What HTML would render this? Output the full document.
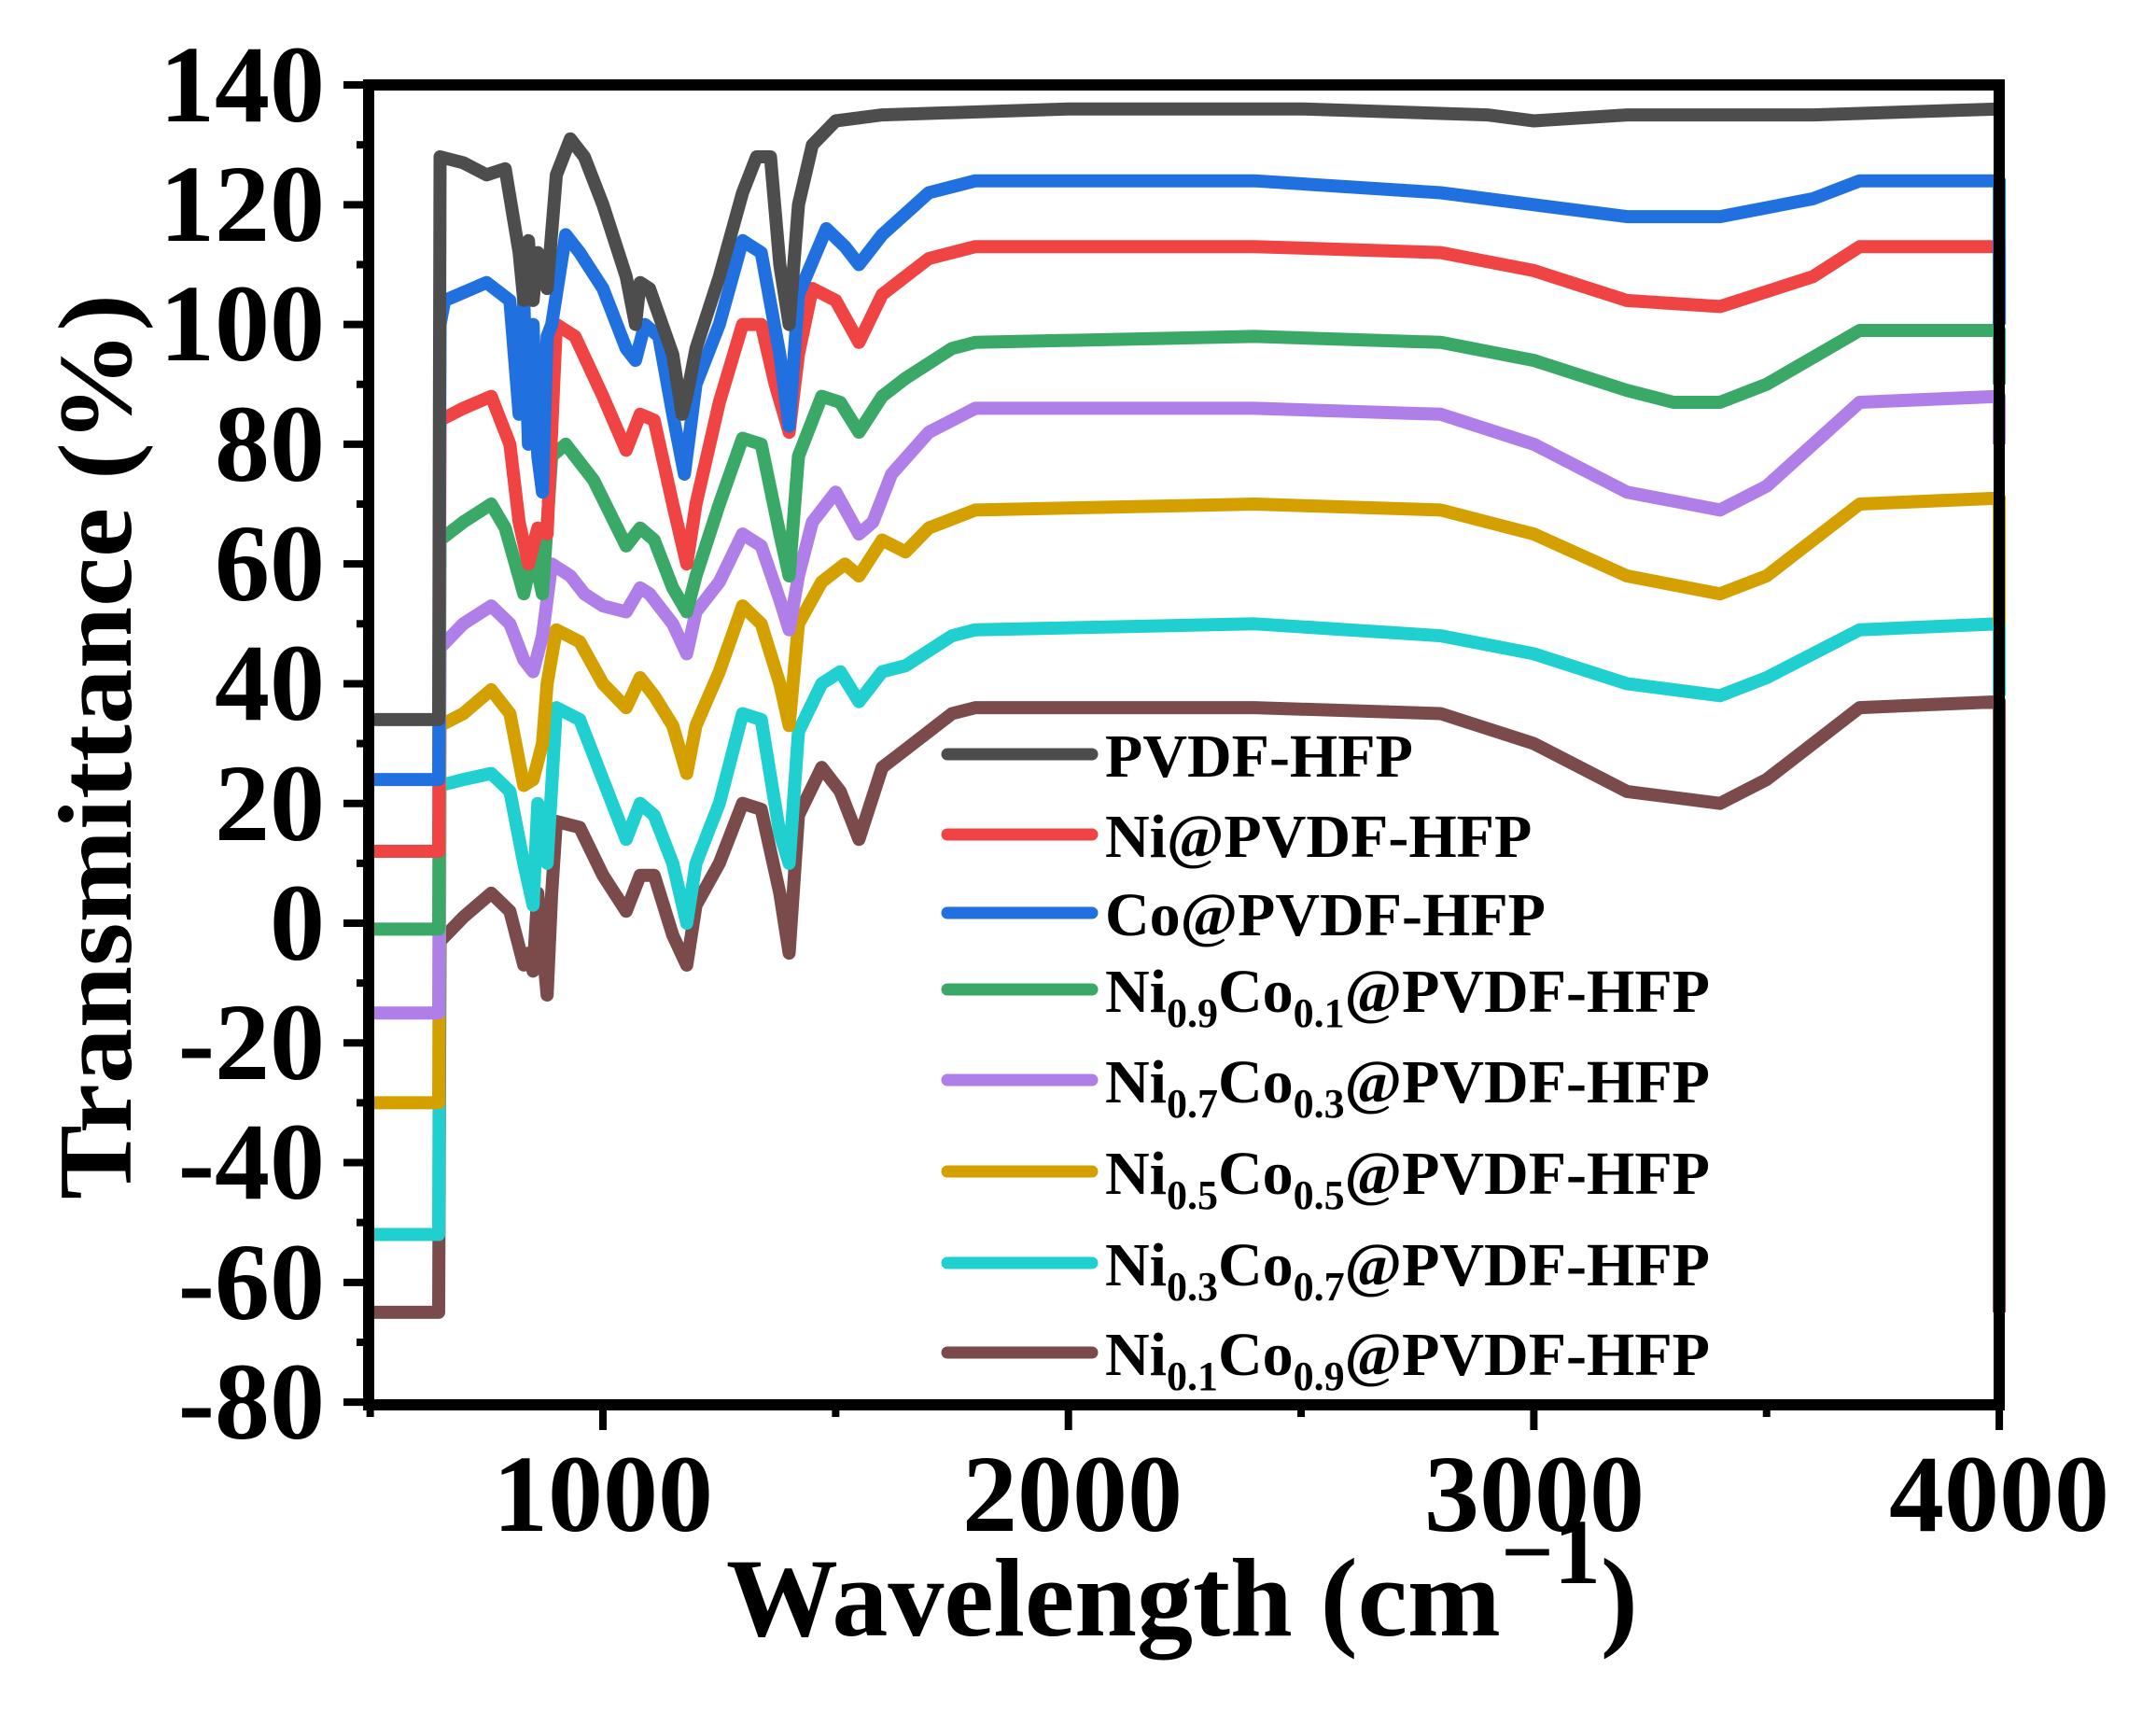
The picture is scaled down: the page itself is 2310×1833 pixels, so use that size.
<!DOCTYPE html>
<html><head><meta charset="utf-8"><style>
html,body{margin:0;padding:0;background:#fff;}
svg{display:block;}
text{font-family:"Liberation Serif","Times New Roman",serif;font-weight:bold;fill:#000;}
</style></head><body>
<svg id="s" width="2310" height="1833" viewBox="0 0 2310 1833" xmlns="http://www.w3.org/2000/svg">
<g id="series" fill="none" stroke-width="14" stroke-linejoin="round"></g>
<rect x="395" y="91" width="1747" height="1414" fill="none" stroke="#000" stroke-width="12"/>
<g id="ticks" stroke="#000" stroke-width="8"></g>
<g font-size="118" text-anchor="end">
<text x="348" y="130">140</text><text x="348" y="258">120</text><text x="348" y="386">100</text>
<text x="348" y="515">80</text><text x="348" y="643">60</text><text x="348" y="771">40</text>
<text x="348" y="900">20</text><text x="348" y="1028">0</text><text x="348" y="1156">-20</text>
<text x="348" y="1284">-40</text><text x="348" y="1413">-60</text><text x="348" y="1541">-80</text>
</g>
<g font-size="118" text-anchor="middle">
<text x="646" y="1640">1000</text><text x="1149" y="1640">2000</text>
<text x="1644" y="1640">3000</text><text x="2142" y="1640">4000</text>
</g>
<text x="778" y="1752" font-size="120">Wavelength (cm<tspan font-size="100" dy="-56">−1</tspan><tspan dy="56">)</tspan></text>
<text transform="translate(140,800) rotate(-90)" font-size="112" text-anchor="middle" textLength="970" lengthAdjust="spacingAndGlyphs">Transmittance (%)</text>
<g stroke-width="13" stroke-linecap="round">
<line x1="1015" y1="808" x2="1170" y2="808" stroke="#4d4d4d"/>
<line x1="1015" y1="894" x2="1170" y2="894" stroke="#f04444"/>
<line x1="1015" y1="978" x2="1170" y2="978" stroke="#2070e0"/>
<line x1="1015" y1="1060" x2="1170" y2="1060" stroke="#3aa866"/>
<line x1="1015" y1="1157" x2="1170" y2="1157" stroke="#b07ee8"/>
<line x1="1015" y1="1255" x2="1170" y2="1255" stroke="#d4a000"/>
<line x1="1015" y1="1353" x2="1170" y2="1353" stroke="#20cfcf"/>
<line x1="1015" y1="1449" x2="1170" y2="1449" stroke="#7b4a4a"/>
</g>
<g font-size="66">
<text x="1184" y="832">PVDF-HFP</text>
<text x="1184" y="918">Ni@PVDF-HFP</text>
<text x="1184" y="1002">Co@PVDF-HFP</text>
<text x="1184" y="1084">Ni<tspan font-size="44" dy="16">0.9</tspan><tspan dy="-16">Co</tspan><tspan font-size="44" dy="16">0.1</tspan><tspan dy="-16">@PVDF-HFP</tspan></text>
<text x="1184" y="1181">Ni<tspan font-size="44" dy="16">0.7</tspan><tspan dy="-16">Co</tspan><tspan font-size="44" dy="16">0.3</tspan><tspan dy="-16">@PVDF-HFP</tspan></text>
<text x="1184" y="1279">Ni<tspan font-size="44" dy="16">0.5</tspan><tspan dy="-16">Co</tspan><tspan font-size="44" dy="16">0.5</tspan><tspan dy="-16">@PVDF-HFP</tspan></text>
<text x="1184" y="1377">Ni<tspan font-size="44" dy="16">0.3</tspan><tspan dy="-16">Co</tspan><tspan font-size="44" dy="16">0.7</tspan><tspan dy="-16">@PVDF-HFP</tspan></text>
<text x="1184" y="1473">Ni<tspan font-size="44" dy="16">0.1</tspan><tspan dy="-16">Co</tspan><tspan font-size="44" dy="16">0.9</tspan><tspan dy="-16">@PVDF-HFP</tspan></text>
</g>
</svg>
<script>
var X=function(w){return 646+(w-1000)*0.4987;}, Y=function(v){return 989-v*6.414;};
var NS="http://www.w3.org/2000/svg";
var S=[
["#7b4a4a",-65,[650,-3,700,1,760,5,800,2,830,-7,840,-5,850,-8,860,5,880,-12,890,5,900,17,950,16,1000,8,1050,2,1080,8,1110,8,1150,-2,1180,-7,1200,3,1250,10,1300,20,1340,19,1380,5,1400,-5,1420,18,1470,26,1510,22,1550,14,1600,26,1650,29,1750,35,1800,36,2400,36,2800,35,3000,30,3200,22,3400,20,3500,24,3700,36,4000,37],-65],
["#20cfcf",-52,[650,23,700,24,760,25,800,22,830,10,850,3,860,20,880,10,900,36,950,34,1000,24,1050,14,1080,20,1110,18,1150,10,1180,0,1200,10,1250,20,1300,35,1340,34,1380,15,1400,10,1420,32,1470,40,1510,42,1550,37,1600,42,1650,43,1750,48,1800,49,2400,50,2800,48,3000,45,3200,40,3400,38,3500,41,3700,49,4000,50],38],
["#d4a000",-30,[650,33,700,35,760,39,800,35,830,23,850,24,870,30,880,40,900,49,950,47,1000,40,1050,36,1080,41,1110,38,1150,33,1180,25,1200,33,1250,42,1300,53,1340,50,1380,40,1400,33,1420,50,1470,57,1520,60,1550,58,1600,64,1650,62,1700,66,1800,69,2400,70,2800,69,3000,65,3200,58,3400,55,3500,58,3700,70,4000,71],50],
["#b07ee8",-15,[650,46,700,50,760,53,800,50,830,44,850,42,870,48,890,60,930,58,960,55,1000,53,1050,52,1080,56,1100,55,1150,50,1180,45,1200,52,1250,57,1300,65,1340,63,1380,54,1400,49,1420,58,1450,67,1500,72,1550,65,1580,67,1620,75,1700,82,1800,86,2400,86,2800,85,3000,80,3200,72,3400,69,3500,73,3700,87,4000,88],80],
["#3aa866",-1,[650,64,700,67,760,70,790,66,830,55,850,62,870,55,890,78,920,80,980,74,1050,63,1080,66,1110,64,1150,56,1180,52,1200,58,1250,70,1300,81,1340,80,1380,65,1400,58,1420,78,1470,88,1510,87,1550,82,1600,88,1650,91,1750,96,1800,97,2400,98,2800,97,3000,94,3200,89,3300,87,3400,87,3500,90,3700,99,4000,99],90],
["#f04444",12,[650,84,700,86,760,88,800,80,820,67,840,60,860,66,880,65,900,100,940,98,1000,88,1050,79,1080,85,1110,84,1150,70,1180,60,1200,70,1250,87,1300,100,1340,100,1370,90,1400,82,1420,95,1450,106,1500,104,1550,97,1600,105,1700,111,1800,113,2400,113,2800,112,3000,109,3200,104,3400,103,3600,108,3700,113,4000,113],100],
["#2070e0",24,[650,100,660,104,750,107,800,104,820,85,830,104,840,80,850,100,860,78,870,72,880,98,890,100,920,115,950,112,1000,106,1050,96,1070,94,1090,100,1120,98,1150,85,1175,75,1200,90,1250,100,1300,114,1340,112,1380,95,1400,83,1420,105,1480,116,1520,113,1550,110,1600,115,1700,122,1800,124,2400,124,2800,122,3000,120,3200,118,3400,118,3600,121,3700,124,4000,124],100],
["#4d4d4d",34,[650,128,700,127,750,125,790,126,820,112,830,104,840,114,850,104,860,112,880,106,900,125,930,131,960,128,1000,120,1050,108,1070,100,1080,107,1100,106,1150,95,1170,85,1180,88,1200,96,1250,108,1300,122,1330,128,1360,128,1380,110,1400,100,1420,120,1450,130,1500,134,1600,135,2000,136,2500,136,2900,135,3000,134,3200,135,3600,135,4000,136],136]
];
var g=document.getElementById("series");
S.forEach(function(s){
 var p=s[2],d="M"+X(500).toFixed(1)+","+Y(s[1]).toFixed(1)+" L"+X(647).toFixed(1)+","+Y(s[1]).toFixed(1);
 for(var i=0;i<p.length;i+=2)d+=" L"+X(p[i]).toFixed(1)+","+Y(p[i+1]).toFixed(1);
 d+=" L"+X(4000).toFixed(1)+","+Y(s[3]).toFixed(1);
 var e=document.createElementNS(NS,"path");e.setAttribute("d",d);e.setAttribute("stroke",s[0]);g.appendChild(e);
});
var t=document.getElementById("ticks"),h="";
for(var v=-80;v<=140;v+=20){var y=Y(v);h+='<line x1="368" y1="'+y+'" x2="395" y2="'+y+'"/>';}
for(var v=-70;v<140;v+=20){var y=Y(v);h+='<line x1="382" y1="'+y+'" x2="395" y2="'+y+'"/>';}
for(var w=1000;w<=4000;w+=1000){var x=X(w);h+='<line x1="'+x+'" y1="1505" x2="'+x+'" y2="1532"/>';}
for(var w=500;w<4000;w+=1000){var x=X(w);h+='<line x1="'+x+'" y1="1505" x2="'+x+'" y2="1518"/>';}
t.innerHTML=h;
</script>
</body></html>
